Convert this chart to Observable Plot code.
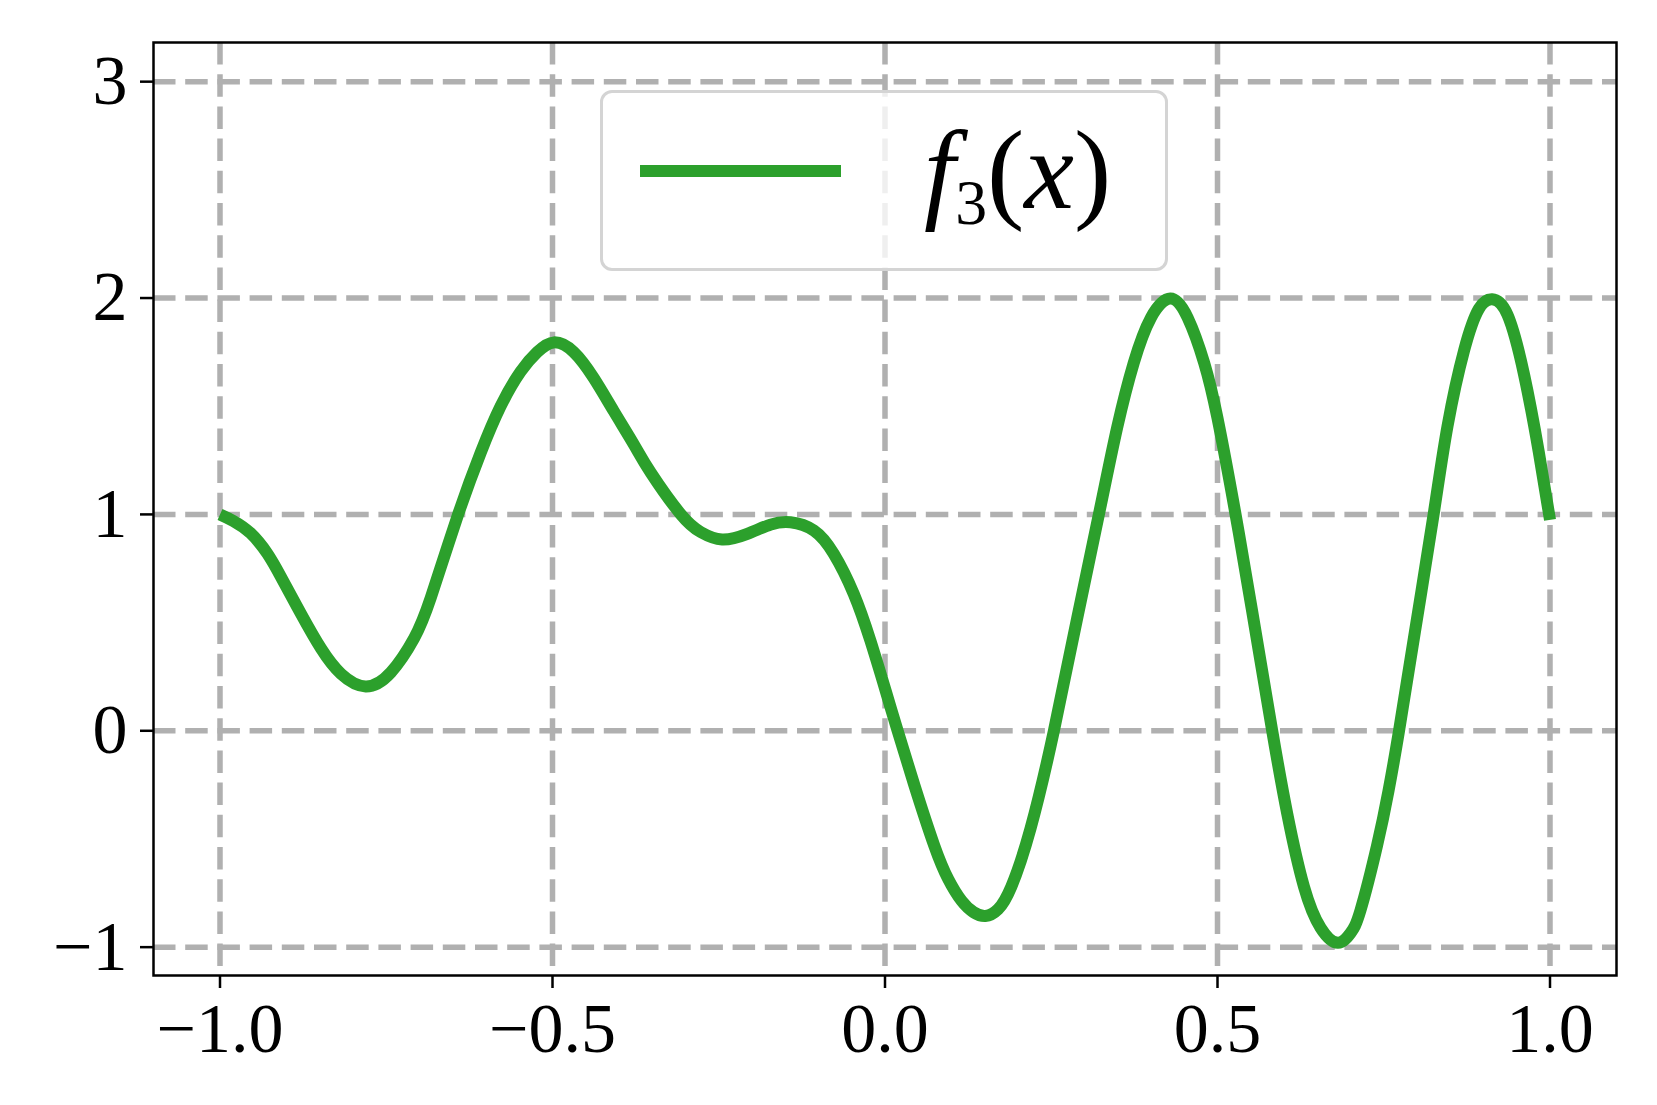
<!DOCTYPE html>
<html>
<head>
<meta charset="utf-8">
<script src="https://cdn.jsdelivr.net/npm/d3@7"></script>
<script src="https://cdn.jsdelivr.net/npm/@observablehq/plot@0.6"></script>
<style>
  html, body { margin: 0; padding: 0; background: white; }
  #wrap { position: relative; width: 1657px; height: 1105px; }
  #legend {
    position: absolute; left: 600px; top: 90px; width: 568px; height: 181px; box-sizing: border-box;
    border: 3px solid #d4d4d4; border-radius: 12px; background: rgba(255,255,255,0.8);
  }
  #legline { position: absolute; left: 640px; top: 165px; width: 201px; height: 12px; background: #2ca02c; }
  #legtext {
    position: absolute; left: 924px; top: 115px; font-family: "Liberation Serif", serif;
    font-size: 112px; line-height: 110px; white-space: nowrap; color: black;
  }
  #legtext sub { font-size: 57%; position: relative; top: 16px; vertical-align: baseline; font-style: normal; }
</style>
</head>
<body>
<div id="wrap"></div>
<script>
// Series f3(x)
const xs = [-1.0, -0.98, -0.954, -0.929, -0.909, -0.879, -0.848, -0.818, -0.781, -0.743,
  -0.708, -0.683, -0.643, -0.608, -0.578, -0.548, -0.523, -0.498, -0.468, -0.438,
  -0.408, -0.377, -0.352, -0.307, -0.277, -0.245, -0.207, -0.172, -0.142, -0.107,
  -0.077, -0.047, -0.022, 0.001, 0.019, 0.044, 0.074, 0.095, 0.115, 0.133,
  0.151, 0.170, 0.190, 0.219, 0.254, 0.289, 0.323, 0.349, 0.374, 0.400,
  0.429, 0.455, 0.480, 0.500, 0.526, 0.552, 0.582, 0.605, 0.630, 0.655,
  0.681, 0.700, 0.715, 0.740, 0.757, 0.773, 0.797, 0.825, 0.846, 0.871,
  0.893, 0.913, 0.936, 0.961, 0.983, 1.0];
const ys = [1.0, 0.97, 0.913, 0.82, 0.715, 0.545, 0.38, 0.263, 0.205, 0.27,
  0.428, 0.615, 0.99, 1.285, 1.50, 1.66, 1.75, 1.795, 1.750, 1.630,
  1.478, 1.320, 1.192, 1.000, 0.918, 0.884, 0.910, 0.953, 0.964, 0.926,
  0.818, 0.633, 0.417, 0.185, 0.0, -0.25, -0.53, -0.685, -0.785, -0.838,
  -0.856, -0.825, -0.72, -0.45, 0.0, 0.52, 1.02, 1.40, 1.70, 1.91,
  1.998, 1.91, 1.70, 1.445, 1.02, 0.555, 0.005, -0.385, -0.72, -0.91,
  -0.98, -0.935, -0.83, -0.53, -0.28, 0.0, 0.46, 1.0, 1.41, 1.76,
  1.95, 1.994, 1.923, 1.646, 1.291, 0.975];
const xTicks = [-1.0, -0.5, 0.0, 0.5, 1.0];
const yTicks = [-1, 0, 1, 2, 3];

const data = xs.map((x, i) => ({x, y: ys[i]}));
const minus = s => s.replace("-", "\u2212");

const chart = Plot.plot({
  width: 1657,
  height: 1105,
  marginLeft: 153,
  marginRight: 41,
  marginTop: 42,
  marginBottom: 130,
  style: {fontFamily: "'Liberation Serif', serif", fontSize: "70px", background: "white", color: "black"},
  x: {domain: [-1.1, 1.1]},
  y: {domain: [-1.131, 3.181]},
  marks: [
    Plot.gridX(xTicks, {stroke: "#b0b0b0", strokeOpacity: 1, strokeWidth: 5.5, strokeDasharray: "22.5,9.7"}),
    Plot.gridY(yTicks, {stroke: "#b0b0b0", strokeOpacity: 1, strokeWidth: 5.5, strokeDasharray: "22.5,9.7"}),
    Plot.line(data, {x: "x", y: "y", stroke: "#2ca02c", strokeWidth: 12, curve: "natural", strokeLinecap: "butt", strokeLinejoin: "round"}),
    Plot.frame({stroke: "black", strokeWidth: 2.5}),
    Plot.axisX(xTicks, {tickSize: 13, tickPadding: 14, strokeWidth: 2.5, tickFormat: d => minus(d.toFixed(1)), label: null}),
    Plot.axisY(yTicks, {tickSize: 13, tickPadding: 13, strokeWidth: 2.5, tickFormat: d => minus(String(d)), label: null})
  ]
});

const wrap = document.getElementById("wrap");
wrap.appendChild(chart);

const legend = document.createElement("div");
legend.id = "legend";
wrap.appendChild(legend);
const legline = document.createElement("div");
legline.id = "legline";
wrap.appendChild(legline);
const legtext = document.createElement("div");
legtext.id = "legtext";
legtext.innerHTML = '<i>f</i><sub>3</sub>(<i>x</i>)';
wrap.appendChild(legtext);
</script>
</body>
</html>
